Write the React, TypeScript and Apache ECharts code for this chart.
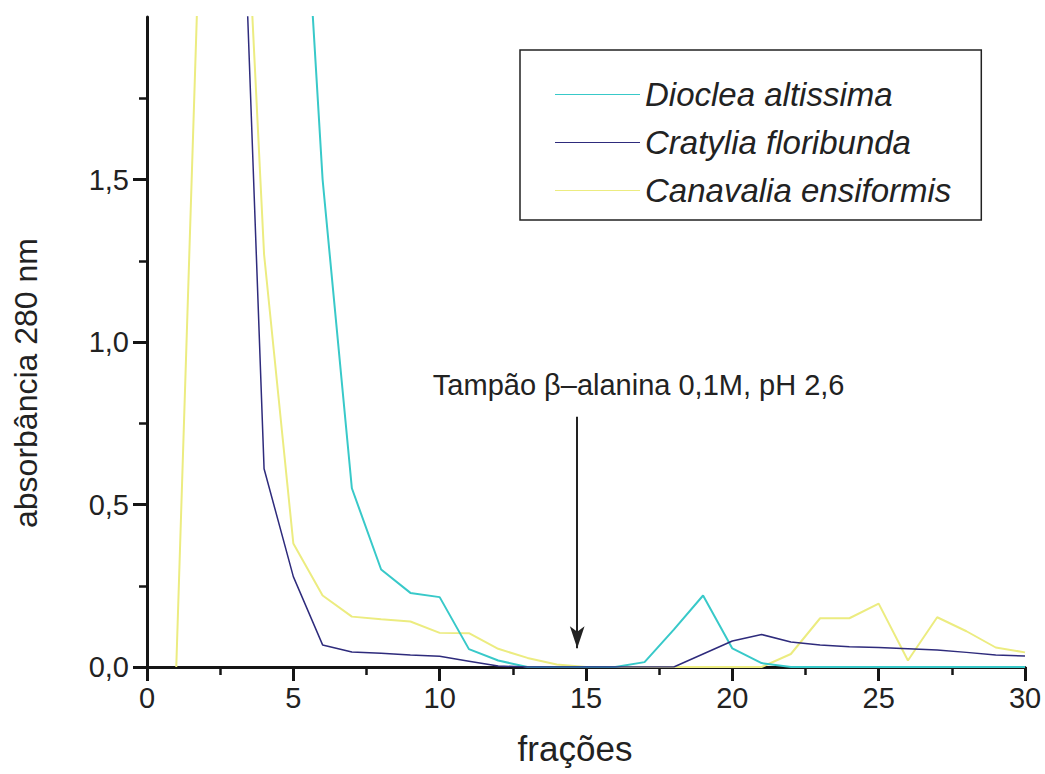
import React, { useEffect, useRef } from "react";
import * as echarts from "echarts";

// Dioclea altissima (cyan)
const diocleaX = [5, 6, 7, 8, 9, 10, 11, 12, 13, 14, 15, 16, 17, 18, 19, 20, 21, 22, 23, 24, 25, 26, 27, 28, 29, 30];
const diocleaY = [3.0, 1.5, 0.55, 0.3, 0.228, 0.215, 0.055, 0.02, 0.0, 0.0, 0.0, 0.0, 0.015, 0.115, 0.22, 0.057, 0.012, 0.0, 0.0, 0.0, 0.0, 0.0, 0.0, 0.0, 0.0, 0.0];

// Cratylia floribunda (navy)
const cratyliaX = [3, 4, 5, 6, 7, 8, 9, 10, 11, 12, 13, 14, 15, 16, 17, 18, 19, 20, 21, 22, 23, 24, 25, 26, 27, 28, 29, 30];
const cratyliaY = [3.1, 0.61, 0.278, 0.068, 0.046, 0.042, 0.037, 0.033, 0.018, 0.003, 0.0, 0.0, 0.0, 0.0, 0.0, 0.0, 0.04, 0.08, 0.1, 0.077, 0.068, 0.062, 0.06, 0.056, 0.052, 0.045, 0.037, 0.034];

// Canavalia ensiformis (yellow)
const canavaliaX = [1, 2, 3, 4, 5, 6, 7, 8, 9, 10, 11, 12, 13, 14, 15, 16, 17, 18, 19, 20, 21, 22, 23, 24, 25, 26, 27, 28, 29, 30];
const canavaliaY = [0.0, 2.85, 3.1, 1.27, 0.38, 0.22, 0.155, 0.147, 0.14, 0.105, 0.104, 0.056, 0.028, 0.008, 0.0, 0.0, 0.0, 0.0, 0.0, 0.0, 0.0, 0.04, 0.15, 0.15, 0.195, 0.02, 0.153, 0.11, 0.06, 0.045];

const seriesNames = ["Dioclea altissima", "Cratylia floribunda", "Canavalia ensiformis"];
const seriesColors = ["#38C9C9", "#2E2B7C", "#ECEC80"];

const yTickValues = [0, 0.5, 1.0, 1.5];

const arrowX = 14.7;
const arrowTop = 0.77;
const arrowTip = 0.058;
const noteText = "Tampão β–alanina 0,1M, pH 2,6";
const notePos = [16.8, 0.868];

const zip = (xs: number[], ys: number[]) => xs.map((x, i) => [x, ys[i]]);

const FONT = "'Liberation Sans', Arial, sans-serif";
const NARROW = "'Liberation Sans Narrow', 'Arial Narrow', 'Liberation Sans', Arial, sans-serif";

export default function App() {
  const ref = useRef<HTMLDivElement>(null);
  useEffect(() => {
    const chart = echarts.init(ref.current!, null, { renderer: "svg" });
    const axisColor = "#151515";
    chart.setOption({
      animation: false,
      backgroundColor: "#ffffff",
      grid: { left: 147, top: 17, right: 20, bottom: 107, containLabel: false },
      legend: {
        orient: "vertical",
        left: 520,
        top: 50,
        padding: [28, 30, 13, 35],
        borderColor: "#222",
        borderWidth: 1.5,
        itemWidth: 85,
        itemHeight: 14,
        itemGap: 15,
        icon: "path://M0,0 L100,0 L100,1 L0,1 Z",
        textStyle: { fontSize: 33, lineHeight: 33, fontStyle: "italic", color: "#222", fontFamily: FONT },
        data: seriesNames,
      },
      xAxis: {
        type: "value",
        min: 0,
        max: 30,
        interval: 5,
        name: "frações",
        nameLocation: "middle",
        nameGap: 64,
        nameTextStyle: { fontSize: 35, color: "#222", fontFamily: FONT, padding: [0, 22, 0, 0] },
        axisLine: { lineStyle: { color: axisColor, width: 3 } },
        axisTick: { length: 14, lineStyle: { color: axisColor, width: 3 } },
        minorTick: { show: true, splitNumber: 2, length: 8, lineStyle: { color: axisColor, width: 2.5 } },
        splitLine: { show: false },
        minorSplitLine: { show: false },
        axisLabel: { fontSize: 29, color: "#222", margin: 16, fontFamily: NARROW },
      },
      yAxis: {
        type: "value",
        min: 0,
        max: 2,
        interval: 0.5,
        name: "absorbância 280 nm",
        nameLocation: "middle",
        nameGap: 105,
        nameTextStyle: { fontSize: 32, color: "#222", fontFamily: FONT, padding: [0, 82, 0, 0] },
        axisLine: { lineStyle: { color: axisColor, width: 3 } },
        axisTick: { length: 14, customValues: yTickValues, lineStyle: { color: axisColor, width: 3 } },
        minorTick: { show: true, splitNumber: 2, length: 8, lineStyle: { color: axisColor, width: 2.5 } },
        splitLine: { show: false },
        minorSplitLine: { show: false },
        axisLabel: {
          fontSize: 29,
          color: "#222",
          margin: 18,
          fontFamily: NARROW,
          customValues: yTickValues,
          formatter: (v: number) => v.toFixed(1).replace(".", ","),
        },
      },
      series: [
        {
          name: seriesNames[0],
          type: "line",
          symbol: "none",
          clip: true,
          data: zip(diocleaX, diocleaY),
          itemStyle: { color: seriesColors[0] },
          lineStyle: { color: seriesColors[0], width: 2 },
          z: 3,
        },
        {
          name: seriesNames[1],
          type: "line",
          symbol: "none",
          clip: true,
          data: zip(cratyliaX, cratyliaY),
          itemStyle: { color: seriesColors[1] },
          lineStyle: { color: seriesColors[1], width: 1.5 },
          z: 4,
          markLine: {
            silent: true,
            symbol: ["none", "arrow"],
            symbolSize: [0, 1],
            label: { show: false },
            lineStyle: { color: "#222", width: 2, type: "solid" },
            data: [
              [
                { coord: [arrowX, arrowTop], symbol: "none" },
                { coord: [arrowX, arrowTip], symbol: "arrow", symbolSize: [11, 22] },
              ],
            ],
          },
          markPoint: {
            silent: true,
            symbol: "circle",
            symbolSize: 0,
            label: {
              show: true,
              position: "inside",
              formatter: noteText,
              fontSize: 29,
              color: "#222",
              fontFamily: FONT,
            },
            data: [{ coord: notePos }],
          },
        },
        {
          name: seriesNames[2],
          type: "line",
          symbol: "none",
          clip: true,
          data: zip(canavaliaX, canavaliaY),
          itemStyle: { color: seriesColors[2] },
          lineStyle: { color: seriesColors[2], width: 2 },
          z: 2,
        },
      ],
    });
    return () => chart.dispose();
  }, []);
  return <div ref={ref} style={{ position: "fixed", left: 0, top: 0, width: 1045, height: 774 }} />;
}
